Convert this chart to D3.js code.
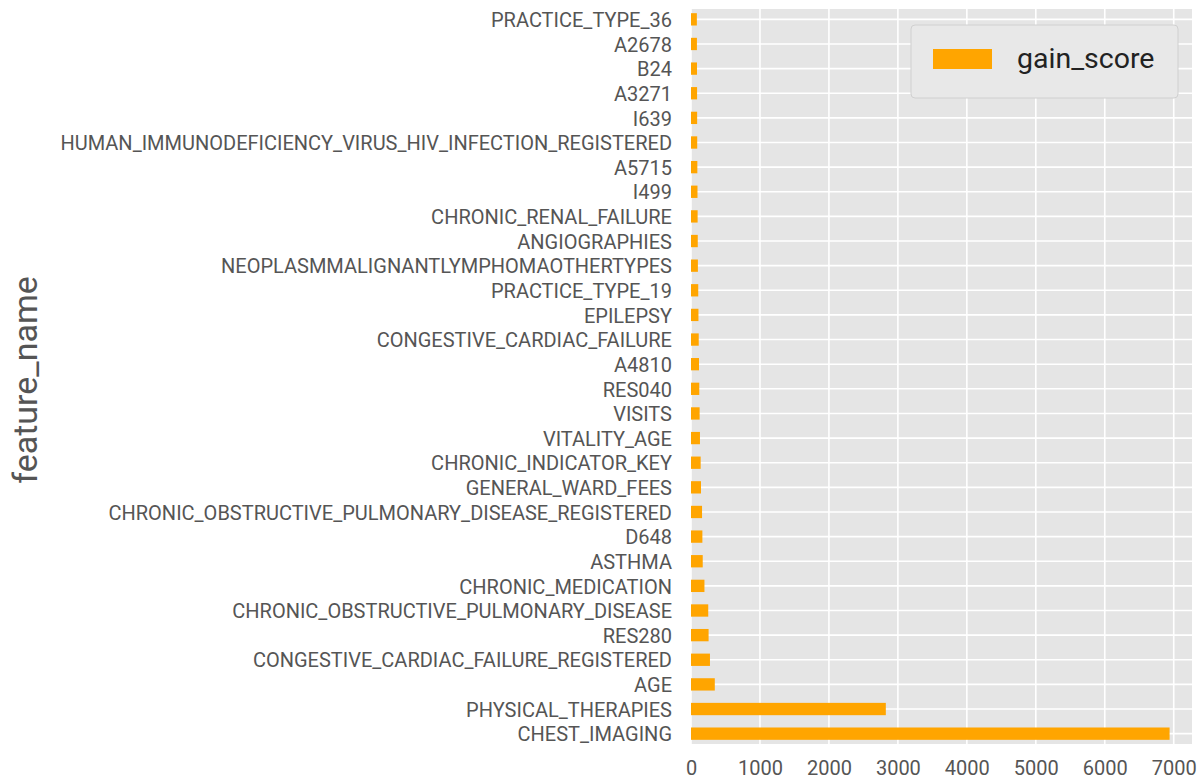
<!DOCTYPE html>
<html><head><meta charset="utf-8">
<script src="https://cdn.jsdelivr.net/npm/d3@7"></script>
<style>html,body{margin:0;padding:0;background:#fff;}svg{display:block;font-family:Roboto,"Noto Sans",sans-serif;}</style>
</head><body>
<svg id="chart" width="1204" height="782"></svg>
<script>
const categories = ["PRACTICE_TYPE_36","A2678","B24","A3271","I639","HUMAN_IMMUNODEFICIENCY_VIRUS_HIV_INFECTION_REGISTERED","A5715","I499","CHRONIC_RENAL_FAILURE","ANGIOGRAPHIES","NEOPLASMMALIGNANTLYMPHOMAOTHERTYPES","PRACTICE_TYPE_19","EPILEPSY","CONGESTIVE_CARDIAC_FAILURE","A4810","RES040","VISITS","VITALITY_AGE","CHRONIC_INDICATOR_KEY","GENERAL_WARD_FEES","CHRONIC_OBSTRUCTIVE_PULMONARY_DISEASE_REGISTERED","D648","ASTHMA","CHRONIC_MEDICATION","CHRONIC_OBSTRUCTIVE_PULMONARY_DISEASE","RES280","CONGESTIVE_CARDIAC_FAILURE_REGISTERED","AGE","PHYSICAL_THERAPIES","CHEST_IMAGING"];
const gainScore = [85,86,87,88,89,90,92,94,96,98,100,105,108,112,116,120,125,130,140,145,160,165,170,195,250,255,275,345,2825,6940];
const xTicks = [0,1000,2000,3000,4000,5000,6000,7000];
const seriesName = "gain_score";
const yAxisTitle = "feature_name";

(function () {
const svg = d3.select("#chart");
const pL = 691, pR = 1192, pT = 9, pB = 744;
const x = d3.scaleLinear().domain([0, 7265]).range([pL, pR]);
const y = d3.scalePoint().domain(categories).range([pT, pB]).padding(0.42);
const bh = y.step() * 0.5;

svg.append("rect").attr("x", pL).attr("y", pT).attr("width", pR - pL).attr("height", pB - pT).attr("fill", "#e5e5e5");

// grid
svg.append("g").selectAll("line").data(xTicks).join("line")
  .attr("x1", d => x(d)).attr("x2", d => x(d)).attr("y1", pT).attr("y2", pB)
  .attr("stroke", "#fff").attr("stroke-width", 1.6);
svg.append("g").selectAll("line").data(categories).join("line")
  .attr("x1", pL).attr("x2", pR).attr("y1", d => y(d)).attr("y2", d => y(d))
  .attr("stroke", "#fff").attr("stroke-width", 1.6);

// bars
svg.append("g").selectAll("rect").data(categories).join("rect")
  .attr("x", x(0)).attr("y", d => y(d) - bh / 2)
  .attr("width", (d, i) => x(gainScore[i]) - x(0)).attr("height", bh)
  .attr("fill", "#ffa500");

// y axis labels
const ya = svg.append("g").attr("transform", `translate(${pL},0)`)
  .call(d3.axisLeft(y).tickSize(0).tickPadding(19));
ya.select(".domain").remove();
ya.selectAll("text").attr("fill", "#555").attr("font-size", 20).attr("font-family", "Roboto, sans-serif").attr("dy", "0.36em");

// x axis
const xa = svg.append("g").attr("transform", `translate(0,${pB})`)
  .call(d3.axisBottom(x).tickValues(xTicks).tickSize(0).tickPadding(17).tickFormat(d3.format("d")));
xa.select(".domain").remove();
xa.selectAll("text").attr("fill", "#555").attr("font-size", 20).attr("font-family", "Roboto, sans-serif");

// y title
svg.append("text").attr("transform", "translate(37,380) rotate(-90)")
  .attr("text-anchor", "middle").attr("fill", "#555").attr("font-size", 34)
  .attr("font-family", "Roboto, sans-serif").text(yAxisTitle);

// legend
const lg = svg.append("g");
lg.append("rect").attr("x", 911).attr("y", 25).attr("width", 267).attr("height", 73).attr("rx", 4)
  .attr("fill", "#e8e8e8").attr("stroke", "#d0d0d0").attr("stroke-width", 1);
lg.append("rect").attr("x", 933).attr("y", 49).attr("width", 59).attr("height", 20).attr("fill", "#ffa500");
lg.append("text").attr("x", 1017).attr("y", 68).attr("fill", "#222").attr("font-size", 28.5)
  .attr("font-family", "Roboto, sans-serif").text(seriesName);
})();
</script>
</body></html>
